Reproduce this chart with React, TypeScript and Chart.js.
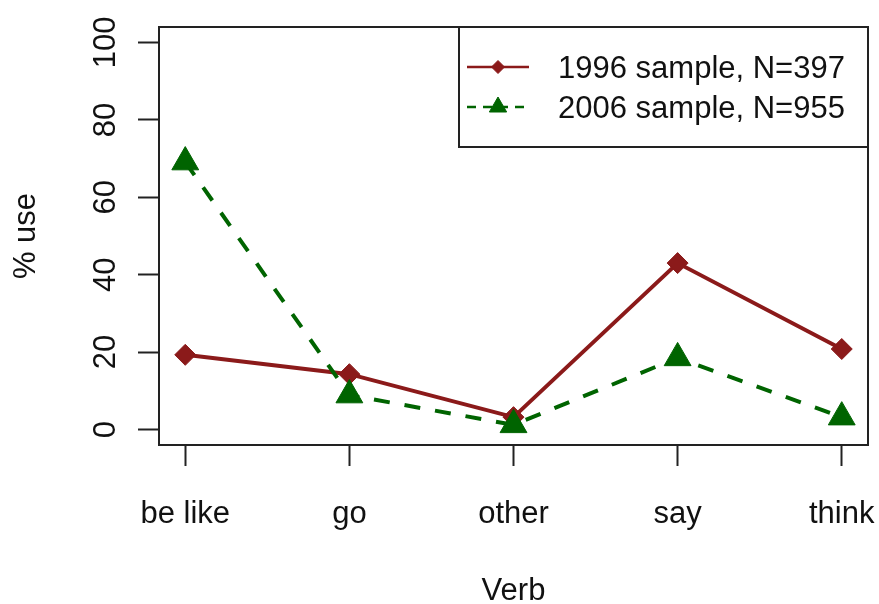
import React, { useEffect, useRef } from 'react';
import { Chart, registerables } from 'chart.js';
import { drawPoint } from 'chart.js/helpers';

Chart.register(...registerables);

const categories = ['be like', 'go', 'other', 'say', 'think'];
const pct1996 = [19.3, 14.3, 3.2, 43.0, 20.8];
const pct2006 = [69.1, 8.9, 1.2, 18.5, 3.2];
const seriesNames = ['1996 sample, N=397', '2006 sample, N=955'];
const yTicks = [0, 20, 40, 60, 80, 100];
const xAxisTitle = 'Verb';
const yAxisTitle = '% use';

const RED = '#8B1A1A';
const GREEN = '#006400';
const INK = '#111';
const FAMILY = '"Liberation Sans", Arial, Helvetica, sans-serif';
const FSIZE = 31;

const framePlugin = {
  id: 'frame',
  afterDraw(chart: any) {
    const { ctx, chartArea: a } = chart;
    ctx.save();
    ctx.strokeStyle = '#222';
    ctx.lineWidth = 2;
    ctx.setLineDash([]);
    ctx.strokeRect(a.left, a.top, a.right - a.left, a.bottom - a.top);

    // legend box (R style)
    const lw = 409;
    const lh = 120;
    const lx = a.right - lw;
    const ly = a.top;
    ctx.strokeRect(lx, ly, lw, lh);
    const legendStyles = [
      { color: RED, dash: [] as number[], style: 'rectRot', radius: 6.5 },
      { color: GREEN, dash: [9, 7], style: 'triangle', radius: 10 },
    ];
    seriesNames.forEach((name, i) => {
      const s = legendStyles[i];
      const y = ly + 40 + i * 40;
      ctx.save();
      ctx.strokeStyle = s.color;
      ctx.lineWidth = 2.5;
      ctx.setLineDash(s.dash);
      ctx.beginPath();
      ctx.moveTo(lx + 8, y);
      ctx.lineTo(lx + 70, y);
      ctx.stroke();
      ctx.setLineDash([]);
      ctx.fillStyle = s.color;
      ctx.strokeStyle = s.color;
      ctx.lineWidth = 1;
      drawPoint(ctx, { pointStyle: s.style, radius: s.radius, rotation: 0, borderWidth: 1 } as any, lx + 39, y);
      ctx.restore();
      ctx.fillStyle = INK;
      ctx.font = `${FSIZE}px ${FAMILY}`;
      ctx.textAlign = 'left';
      ctx.textBaseline = 'middle';
      ctx.fillText(name, lx + 99, y + 2);
    });
    ctx.restore();
  },
};

export default function App() {
  const ref = useRef<HTMLCanvasElement | null>(null);

  useEffect(() => {
    document.body.style.margin = '0';
    const canvas = ref.current;
    if (!canvas) return;
    const tickFont = { family: FAMILY, size: FSIZE, lineHeight: 1.2 };
    const chart = new Chart(canvas, {
      type: 'line',
      data: {
        datasets: [
          {
            label: seriesNames[0],
            data: pct1996.map((v, i) => ({ x: i, y: v })),
            borderColor: RED,
            backgroundColor: RED,
            borderWidth: 4,
            pointStyle: 'rectRot',
            pointRadius: 10.5,
            pointBorderWidth: 1,
            pointBackgroundColor: RED,
            pointBorderColor: RED,
            tension: 0,
            clip: false,
            order: 1,
          },
          {
            label: seriesNames[1],
            data: pct2006.map((v, i) => ({ x: i, y: v })),
            borderColor: GREEN,
            backgroundColor: GREEN,
            borderWidth: 4,
            borderDash: [16, 15],
            pointStyle: 'triangle',
            pointRadius: 15.5,
            pointBorderWidth: 1,
            pointBackgroundColor: GREEN,
            pointBorderColor: GREEN,
            tension: 0,
            clip: false,
            order: 0,
          },
        ] as any,
      },
      options: {
        animation: false,
        responsive: false,
        devicePixelRatio: 1,
        layout: { autoPadding: false, padding: { top: 27, right: 11, left: 0, bottom: 0 } },
        plugins: { legend: { display: false }, tooltip: { enabled: false } },
        scales: {
          x: {
            type: 'linear',
            min: -0.16,
            max: 4.16,
            afterBuildTicks: (s: any) => {
              s.ticks = categories.map((_, i) => ({ value: i }));
            },
            afterFit: (s: any) => {
              s.height = 159;
              s.paddingLeft = 0;
              s.paddingRight = 0;
            },
            grid: {
              display: true,
              drawOnChartArea: false,
              drawTicks: true,
              tickLength: 21,
              tickColor: '#222',
              tickWidth: 2,
            },
            border: { display: false },
            ticks: {
              callback: (v: any) => categories[v],
              font: tickFont,
              color: INK,
              padding: 30,
              maxRotation: 0,
              minRotation: 0,
              autoSkip: false,
            },
            title: {
              display: true,
              text: xAxisTitle,
              font: { family: FAMILY, size: FSIZE, lineHeight: 0.8 },
              color: INK,
              padding: { top: 0, bottom: 0 },
            },
          },
          y: {
            type: 'linear',
            min: -4,
            max: 104,
            afterBuildTicks: (s: any) => {
              s.ticks = yTicks.map((v) => ({ value: v }));
            },
            afterFit: (s: any) => {
              s.width = 159;
              s.paddingTop = 0;
              s.paddingBottom = 0;
            },
            grid: {
              display: true,
              drawOnChartArea: false,
              drawTicks: true,
              tickLength: 21,
              tickColor: '#222',
              tickWidth: 2,
            },
            border: { display: false },
            ticks: {
              callback: (v: any) => String(v),
              font: tickFont,
              color: INK,
              padding: 6,
              minRotation: 90,
              maxRotation: 90,
              crossAlign: 'center',
              autoSkip: false,
            },
            title: {
              display: true,
              text: yAxisTitle,
              font: { family: FAMILY, size: FSIZE, lineHeight: 0.8 },
              color: INK,
              padding: { top: 14, bottom: 0 },
            },
          },
        },
      } as any,
      plugins: [framePlugin],
    });
    return () => chart.destroy();
  }, []);

  return <canvas ref={ref} width={879} height={604} style={{ display: 'block', width: 879, height: 604 }} />;
}
